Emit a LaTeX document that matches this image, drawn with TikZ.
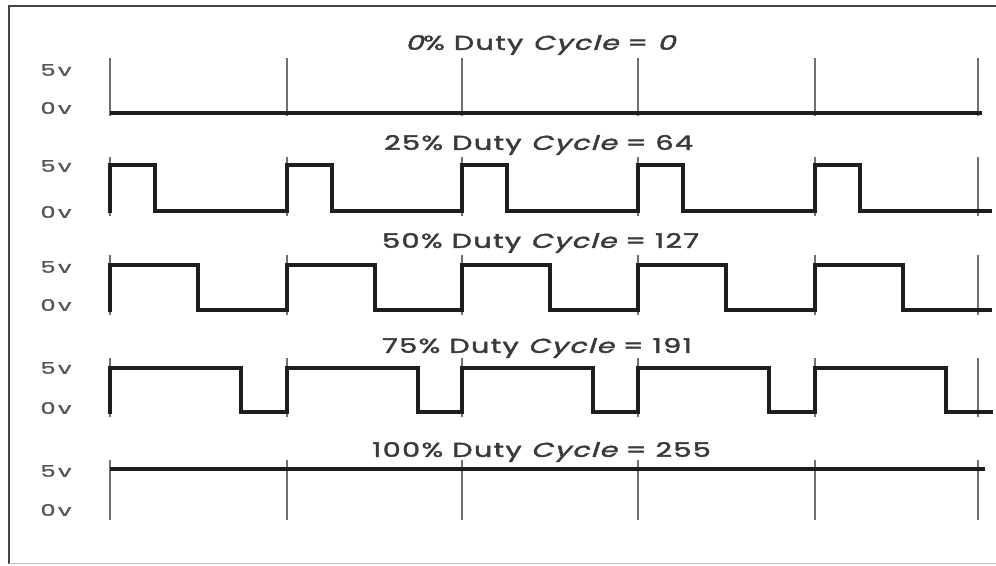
\documentclass[tikz,border=0pt]{standalone}
\usepackage{fontspec}
\setmainfont{Poppins}
\newfontfamily\titlefont[LetterSpace=5, FakeBold=1.8]{Poppins}
\newfontfamily\slantpop[LetterSpace=5, FakeBold=1.8, FakeSlant=0.22]{Poppins}
\newfontfamily\labfont[LetterSpace=10, FakeBold=1.0]{Poppins}
\definecolor{wavecol}{HTML}{1E1E1E}
\definecolor{tickcol}{HTML}{707070}
\definecolor{labcol}{HTML}{555555}
\definecolor{titlecol}{HTML}{3A3A3A}
\definecolor{framecol}{HTML}{444444}
\tikzset{
  wave/.style={draw=wavecol, line width=3.2pt, line join=miter},
  edge/.style={draw=wavecol, line width=4.8pt},
  tickline/.style={draw=tickcol, line width=1.8pt},
  vlab/.style={text=labcol, font=\labfont\fontsize{16}{16}\selectfont, inner sep=0pt},
  title/.style={text=titlecol, font=\titlefont\fontsize{20}{20}\selectfont, inner sep=0pt, anchor=west}
}
\newcommand{\cyc}{{\slantpop Cycle}}
\newcommand{\wide}[1]{\scalebox{1.43}[1]{#1}}
\newcommand{\widel}[1]{\scalebox{1.5}[1]{#1}}
\begin{document}
\begin{tikzpicture}[x=1pt,y=-1pt]
\useasboundingbox (0,0) rectangle (996,565);
% frame
\draw[framecol, line width=2pt] (996,6) -- (9,6) -- (9,564);
\draw[black!25, line width=1.2pt] (9,563.5) -- (996,563.5);

% ticks
\foreach \t in {110,287,462,638,815,978}{
  \draw[tickline] (\t,58) -- (\t,116);
  \draw[tickline] (\t,157) -- (\t,216);
  \draw[tickline] (\t,255) -- (\t,315);
  \draw[tickline] (\t,358) -- (\t,417);
  \draw[tickline] (\t,460) -- (\t,520);
}

% voltage labels
\foreach \r/\h/\l in {1/70/108, 2/166/212, 3/267/305, 4/368/408, 5/471/510}{
  \node[vlab] (hi\r) at (56,\h) {\widel{5v}};
  \node[vlab] (lo\r) at (56,\l) {\widel{0v}};
}

% row 1: 0%
\draw[wave] (110,113) -- (982,113);
% row 2: 25%
\draw[wave] (110,211) \foreach \t/\n in {110/287,287/462,462/638,638/815,815/992}{ -- (\t,165) -- (\t+45,165) -- (\t+45,211) -- (\n,211) };
% row 3: 50%
\draw[wave] (110,310) \foreach \t/\n in {110/287,287/462,462/638,638/815,815/992}{ -- (\t,265) -- (\t+88,265) -- (\t+88,310) -- (\n,310) };
% row 4: 75%
\draw[wave] (110,412) \foreach \t/\n in {110/287,287/462,462/638,638/815,815/993}{ -- (\t,368) -- (\t+131,368) -- (\t+131,412) -- (\n,412) };
% row 5: 100%
\draw[wave] (110,469) -- (985,469);

% thicker rising edges
\foreach \t in {110,287,462,638,815}{
  \draw[edge] (\t,213) -- (\t,164);
  \draw[edge] (\t,312) -- (\t,264);
  \draw[edge] (\t,414) -- (\t,367);
}

% titles
\node[title] (t1) at (405,45) {\wide{{\slantpop 0}\% Duty \cyc{} = {\slantpop 0}}};
\node[title] (t2) at (384,145) {\wide{25\% Duty \cyc{} = 64}};
\node[title] (t3) at (382,243) {\wide{50\% Duty \cyc{} = 127}};
\node[title] (t4) at (382,348) {\wide{75\% Duty \cyc{} = 191}};
\node[title] (t5) at (372,452) {\wide{100\% Duty \cyc{} = 255}};
\end{tikzpicture}
\end{document}
